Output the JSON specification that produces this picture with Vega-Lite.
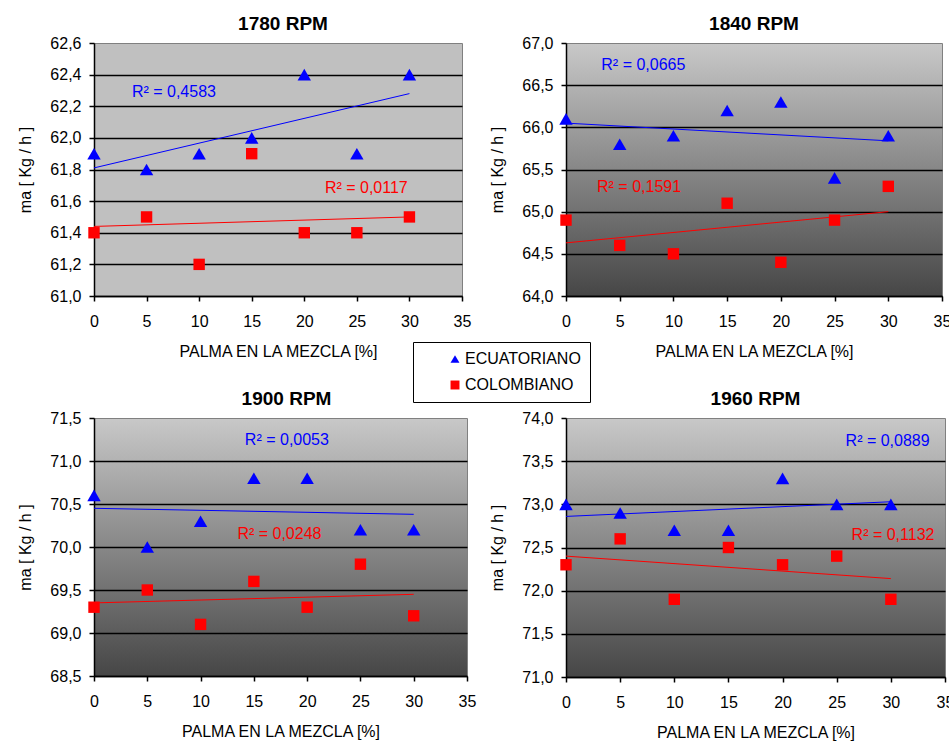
{
  "$schema": "https://vega.github.io/schema/vega-lite/v6.json",
  "padding": {"left": 17, "top": 14, "right": 0, "bottom": 0},
  "background": "#ffffff",
  "datasets": {
    "puntos": [
      {"rpm": 1780, "serie": "ECUATORIANO", "palma": 0, "ma": 61.9},
      {"rpm": 1780, "serie": "ECUATORIANO", "palma": 5, "ma": 61.8},
      {"rpm": 1780, "serie": "ECUATORIANO", "palma": 10, "ma": 61.9},
      {"rpm": 1780, "serie": "ECUATORIANO", "palma": 15, "ma": 62.0},
      {"rpm": 1780, "serie": "ECUATORIANO", "palma": 20, "ma": 62.4},
      {"rpm": 1780, "serie": "ECUATORIANO", "palma": 25, "ma": 61.9},
      {"rpm": 1780, "serie": "ECUATORIANO", "palma": 30, "ma": 62.4},
      {"rpm": 1780, "serie": "COLOMBIANO", "palma": 0, "ma": 61.4},
      {"rpm": 1780, "serie": "COLOMBIANO", "palma": 5, "ma": 61.5},
      {"rpm": 1780, "serie": "COLOMBIANO", "palma": 10, "ma": 61.2},
      {"rpm": 1780, "serie": "COLOMBIANO", "palma": 15, "ma": 61.9},
      {"rpm": 1780, "serie": "COLOMBIANO", "palma": 20, "ma": 61.4},
      {"rpm": 1780, "serie": "COLOMBIANO", "palma": 25, "ma": 61.4},
      {"rpm": 1780, "serie": "COLOMBIANO", "palma": 30, "ma": 61.5},
      {"rpm": 1840, "serie": "ECUATORIANO", "palma": 0, "ma": 66.1},
      {"rpm": 1840, "serie": "ECUATORIANO", "palma": 5, "ma": 65.8},
      {"rpm": 1840, "serie": "ECUATORIANO", "palma": 10, "ma": 65.9},
      {"rpm": 1840, "serie": "ECUATORIANO", "palma": 15, "ma": 66.2},
      {"rpm": 1840, "serie": "ECUATORIANO", "palma": 20, "ma": 66.3},
      {"rpm": 1840, "serie": "ECUATORIANO", "palma": 25, "ma": 65.4},
      {"rpm": 1840, "serie": "ECUATORIANO", "palma": 30, "ma": 65.9},
      {"rpm": 1840, "serie": "COLOMBIANO", "palma": 0, "ma": 64.9},
      {"rpm": 1840, "serie": "COLOMBIANO", "palma": 5, "ma": 64.6},
      {"rpm": 1840, "serie": "COLOMBIANO", "palma": 10, "ma": 64.5},
      {"rpm": 1840, "serie": "COLOMBIANO", "palma": 15, "ma": 65.1},
      {"rpm": 1840, "serie": "COLOMBIANO", "palma": 20, "ma": 64.4},
      {"rpm": 1840, "serie": "COLOMBIANO", "palma": 25, "ma": 64.9},
      {"rpm": 1840, "serie": "COLOMBIANO", "palma": 30, "ma": 65.3},
      {"rpm": 1900, "serie": "ECUATORIANO", "palma": 0, "ma": 70.6},
      {"rpm": 1900, "serie": "ECUATORIANO", "palma": 5, "ma": 70.0},
      {"rpm": 1900, "serie": "ECUATORIANO", "palma": 10, "ma": 70.3},
      {"rpm": 1900, "serie": "ECUATORIANO", "palma": 15, "ma": 70.8},
      {"rpm": 1900, "serie": "ECUATORIANO", "palma": 20, "ma": 70.8},
      {"rpm": 1900, "serie": "ECUATORIANO", "palma": 25, "ma": 70.2},
      {"rpm": 1900, "serie": "ECUATORIANO", "palma": 30, "ma": 70.2},
      {"rpm": 1900, "serie": "COLOMBIANO", "palma": 0, "ma": 69.3},
      {"rpm": 1900, "serie": "COLOMBIANO", "palma": 5, "ma": 69.5},
      {"rpm": 1900, "serie": "COLOMBIANO", "palma": 10, "ma": 69.1},
      {"rpm": 1900, "serie": "COLOMBIANO", "palma": 15, "ma": 69.6},
      {"rpm": 1900, "serie": "COLOMBIANO", "palma": 20, "ma": 69.3},
      {"rpm": 1900, "serie": "COLOMBIANO", "palma": 25, "ma": 69.8},
      {"rpm": 1900, "serie": "COLOMBIANO", "palma": 30, "ma": 69.2},
      {"rpm": 1960, "serie": "ECUATORIANO", "palma": 0, "ma": 73.0},
      {"rpm": 1960, "serie": "ECUATORIANO", "palma": 5, "ma": 72.9},
      {"rpm": 1960, "serie": "ECUATORIANO", "palma": 10, "ma": 72.7},
      {"rpm": 1960, "serie": "ECUATORIANO", "palma": 15, "ma": 72.7},
      {"rpm": 1960, "serie": "ECUATORIANO", "palma": 20, "ma": 73.3},
      {"rpm": 1960, "serie": "ECUATORIANO", "palma": 25, "ma": 73.0},
      {"rpm": 1960, "serie": "ECUATORIANO", "palma": 30, "ma": 73.0},
      {"rpm": 1960, "serie": "COLOMBIANO", "palma": 0, "ma": 72.3},
      {"rpm": 1960, "serie": "COLOMBIANO", "palma": 5, "ma": 72.6},
      {"rpm": 1960, "serie": "COLOMBIANO", "palma": 10, "ma": 71.9},
      {"rpm": 1960, "serie": "COLOMBIANO", "palma": 15, "ma": 72.5},
      {"rpm": 1960, "serie": "COLOMBIANO", "palma": 20, "ma": 72.3},
      {"rpm": 1960, "serie": "COLOMBIANO", "palma": 25, "ma": 72.4},
      {"rpm": 1960, "serie": "COLOMBIANO", "palma": 30, "ma": 71.9}
    ],
    "tendencias": [
      {"rpm": 1780, "serie": "ECUATORIANO", "palma": 0, "ma": 61.81},
      {"rpm": 1780, "serie": "ECUATORIANO", "palma": 30, "ma": 62.28},
      {"rpm": 1780, "serie": "COLOMBIANO", "palma": 0, "ma": 61.44},
      {"rpm": 1780, "serie": "COLOMBIANO", "palma": 30, "ma": 61.50},
      {"rpm": 1840, "serie": "ECUATORIANO", "palma": 0, "ma": 66.05},
      {"rpm": 1840, "serie": "ECUATORIANO", "palma": 30, "ma": 65.84},
      {"rpm": 1840, "serie": "COLOMBIANO", "palma": 0, "ma": 64.63},
      {"rpm": 1840, "serie": "COLOMBIANO", "palma": 30, "ma": 65.00},
      {"rpm": 1900, "serie": "ECUATORIANO", "palma": 0, "ma": 70.45},
      {"rpm": 1900, "serie": "ECUATORIANO", "palma": 30, "ma": 70.38},
      {"rpm": 1900, "serie": "COLOMBIANO", "palma": 0, "ma": 69.35},
      {"rpm": 1900, "serie": "COLOMBIANO", "palma": 30, "ma": 69.45},
      {"rpm": 1960, "serie": "ECUATORIANO", "palma": 0, "ma": 72.86},
      {"rpm": 1960, "serie": "ECUATORIANO", "palma": 30, "ma": 73.03},
      {"rpm": 1960, "serie": "COLOMBIANO", "palma": 0, "ma": 72.40},
      {"rpm": 1960, "serie": "COLOMBIANO", "palma": 30, "ma": 72.14}
    ],
    "r2": [
      {"rpm": 1780, "serie": "ECUATORIANO", "palma": 7.6, "ma": 62.29, "texto": "R² = 0,4583"},
      {"rpm": 1780, "serie": "COLOMBIANO", "palma": 25.9, "ma": 61.68, "texto": "R² = 0,0117"},
      {"rpm": 1840, "serie": "ECUATORIANO", "palma": 7.2, "ma": 66.74, "texto": "R² = 0,0665"},
      {"rpm": 1840, "serie": "COLOMBIANO", "palma": 6.8, "ma": 65.29, "texto": "R² = 0,1591"},
      {"rpm": 1900, "serie": "ECUATORIANO", "palma": 18.1, "ma": 71.24, "texto": "R² = 0,0053"},
      {"rpm": 1900, "serie": "COLOMBIANO", "palma": 17.4, "ma": 70.15, "texto": "R² = 0,0248"},
      {"rpm": 1960, "serie": "ECUATORIANO", "palma": 29.7, "ma": 73.73, "texto": "R² = 0,0889"},
      {"rpm": 1960, "serie": "COLOMBIANO", "palma": 30.2, "ma": 72.64, "texto": "R² = 0,1132"}
    ]
  },
  "columns": 2,
  "bounds": "flush",
  "spacing": {"row": 122, "column": 99},
  "resolve": {"scale": {"x": "independent", "y": "independent"}},
  "concat": [
    {
      "title": {"text": "1780 RPM", "dx": 5},
      "width": 368, "height": 253,
      "view": {"fill": "#c0c0c0", "stroke": "#808080"},
      "encoding": {
        "x": {"field": "palma", "type": "quantitative", "title": "PALMA EN LA MEZCLA [%]",
              "scale": {"domain": [0, 35], "nice": false, "zero": false},
              "axis": {"values": [0, 5, 10, 15, 20, 25, 30, 35]}},
        "y": {"field": "ma", "type": "quantitative", "title": "ma [ Kg / h ]",
              "scale": {"domain": [61, 62.6], "nice": false, "zero": false},
              "axis": {"values": [61, 61.2, 61.4, 61.6, 61.8, 62, 62.2, 62.4, 62.6],
                       "gridOpacity": {"condition": {"test": "datum.value > 62.55", "value": 0}, "value": 1}}}
      },
      "layer": [
        {"data": {"name": "tendencias"}, "transform": [{"filter": "datum.rpm == 1780"}],
         "mark": {"type": "line", "strokeWidth": 1},
         "encoding": {"stroke": {"condition": {"test": "datum.serie == 'ECUATORIANO'", "value": "#0000ff"}, "value": "#ff0000"}, "detail": {"field": "serie"}}},
        {"data": {"name": "puntos"}, "transform": [{"filter": "datum.rpm == 1780"}],
         "mark": {"type": "point", "filled": true, "opacity": 1, "strokeWidth": 0},
         "encoding": {
           "color": {"field": "serie", "type": "nominal", "scale": {"domain": ["ECUATORIANO", "COLOMBIANO"], "range": ["#0000ff", "#ff0000"]},
                     "legend": {"title": null, "orient": "none", "legendX": 319, "legendY": 299, "strokeColor": "#000000", "fillColor": "#ffffff", "padding": 9, "symbolOffset": 25, "labelOffset": 2, "rowPadding": 10, "symbolSize": 80, "labelFontSize": 16, "labelColor": "#000000", "labelExpr": "datum.label + '\u2003\u2003\u2003\u2003\u2003'"}},
           "shape": {"field": "serie", "type": "nominal", "scale": {"domain": ["ECUATORIANO", "COLOMBIANO"], "range": ["triangle-up", "square"]},
                     "legend": {"title": null, "orient": "none", "legendX": 319, "legendY": 299, "strokeColor": "#000000", "fillColor": "#ffffff", "padding": 9, "symbolOffset": 25, "labelOffset": 2, "rowPadding": 10, "symbolSize": 80, "labelFontSize": 16, "labelColor": "#000000", "labelExpr": "datum.label + '\u2003\u2003\u2003\u2003\u2003'"}},
           "size": {"condition": {"test": "datum.serie == 'ECUATORIANO'", "value": 180}, "value": 130}}},
        {"data": {"name": "r2"}, "transform": [{"filter": "datum.rpm == 1780"}],
         "mark": {"type": "text", "fontSize": 16, "baseline": "middle", "align": "center"},
         "encoding": {"text": {"field": "texto"}, "fill": {"condition": {"test": "datum.serie == 'ECUATORIANO'", "value": "#0000ff"}, "value": "#ff0000"}}}
      ]
    },
    {
      "title": "1840 RPM",
      "width": 376, "height": 253,
      "encoding": {
        "x": {"field": "palma", "type": "quantitative", "title": "PALMA EN LA MEZCLA [%]",
              "scale": {"domain": [0, 35], "nice": false, "zero": false},
              "axis": {"values": [0, 5, 10, 15, 20, 25, 30, 35]}},
        "y": {"field": "ma", "type": "quantitative", "title": "ma [ Kg / h ]",
              "scale": {"domain": [64, 67], "nice": false, "zero": false},
              "axis": {"values": [64, 64.5, 65, 65.5, 66, 66.5, 67],
                       "gridOpacity": {"condition": {"test": "datum.value > 66.9", "value": 0}, "value": 1}}}
      },
      "layer": [
        {"data": {"name": "tendencias"}, "transform": [{"filter": "datum.rpm == 1840"}],
         "mark": {"type": "line", "strokeWidth": 1},
         "encoding": {"stroke": {"condition": {"test": "datum.serie == 'ECUATORIANO'", "value": "#0000ff"}, "value": "#ff0000"}, "detail": {"field": "serie"}}},
        {"data": {"name": "puntos"}, "transform": [{"filter": "datum.rpm == 1840"}],
         "mark": {"type": "point", "filled": true, "opacity": 1, "strokeWidth": 0},
         "encoding": {
           "color": {"field": "serie", "type": "nominal", "scale": {"domain": ["ECUATORIANO", "COLOMBIANO"], "range": ["#0000ff", "#ff0000"]}},
           "shape": {"field": "serie", "type": "nominal", "scale": {"domain": ["ECUATORIANO", "COLOMBIANO"], "range": ["triangle-up", "square"]}},
           "size": {"condition": {"test": "datum.serie == 'ECUATORIANO'", "value": 180}, "value": 130}}},
        {"data": {"name": "r2"}, "transform": [{"filter": "datum.rpm == 1840"}],
         "mark": {"type": "text", "fontSize": 16, "baseline": "middle", "align": "center"},
         "encoding": {"text": {"field": "texto"}, "fill": {"condition": {"test": "datum.serie == 'ECUATORIANO'", "value": "#0000ff"}, "value": "#ff0000"}}}
      ]
    },
    {
      "title": {"text": "1900 RPM", "dx": 6},
      "width": 373, "height": 258,
      "encoding": {
        "x": {"field": "palma", "type": "quantitative", "title": "PALMA EN LA MEZCLA [%]",
              "scale": {"domain": [0, 35], "nice": false, "zero": false},
              "axis": {"values": [0, 5, 10, 15, 20, 25, 30, 35]}},
        "y": {"field": "ma", "type": "quantitative", "title": "ma [ Kg / h ]",
              "scale": {"domain": [68.5, 71.5], "nice": false, "zero": false},
              "axis": {"values": [68.5, 69, 69.5, 70, 70.5, 71, 71.5],
                       "gridOpacity": {"condition": {"test": "datum.value > 71.4", "value": 0}, "value": 1}}}
      },
      "layer": [
        {"data": {"name": "tendencias"}, "transform": [{"filter": "datum.rpm == 1900"}],
         "mark": {"type": "line", "strokeWidth": 1},
         "encoding": {"stroke": {"condition": {"test": "datum.serie == 'ECUATORIANO'", "value": "#0000ff"}, "value": "#ff0000"}, "detail": {"field": "serie"}}},
        {"data": {"name": "puntos"}, "transform": [{"filter": "datum.rpm == 1900"}],
         "mark": {"type": "point", "filled": true, "opacity": 1, "strokeWidth": 0},
         "encoding": {
           "color": {"field": "serie", "type": "nominal", "scale": {"domain": ["ECUATORIANO", "COLOMBIANO"], "range": ["#0000ff", "#ff0000"]}},
           "shape": {"field": "serie", "type": "nominal", "scale": {"domain": ["ECUATORIANO", "COLOMBIANO"], "range": ["triangle-up", "square"]}},
           "size": {"condition": {"test": "datum.serie == 'ECUATORIANO'", "value": 180}, "value": 130}}},
        {"data": {"name": "r2"}, "transform": [{"filter": "datum.rpm == 1900"}],
         "mark": {"type": "text", "fontSize": 16, "baseline": "middle", "align": "center"},
         "encoding": {"text": {"field": "texto"}, "fill": {"condition": {"test": "datum.serie == 'ECUATORIANO'", "value": "#0000ff"}, "value": "#ff0000"}}}
      ]
    },
    {
      "title": "1960 RPM",
      "width": 379, "height": 259,
      "encoding": {
        "x": {"field": "palma", "type": "quantitative", "title": "PALMA EN LA MEZCLA [%]",
              "scale": {"domain": [0, 35], "nice": false, "zero": false},
              "axis": {"values": [0, 5, 10, 15, 20, 25, 30, 35]}},
        "y": {"field": "ma", "type": "quantitative", "title": "ma [ Kg / h ]",
              "scale": {"domain": [71, 74], "nice": false, "zero": false},
              "axis": {"values": [71, 71.5, 72, 72.5, 73, 73.5, 74],
                       "gridOpacity": {"condition": {"test": "datum.value > 73.9", "value": 0}, "value": 1}}}
      },
      "layer": [
        {"data": {"name": "tendencias"}, "transform": [{"filter": "datum.rpm == 1960"}],
         "mark": {"type": "line", "strokeWidth": 1},
         "encoding": {"stroke": {"condition": {"test": "datum.serie == 'ECUATORIANO'", "value": "#0000ff"}, "value": "#ff0000"}, "detail": {"field": "serie"}}},
        {"data": {"name": "puntos"}, "transform": [{"filter": "datum.rpm == 1960"}],
         "mark": {"type": "point", "filled": true, "opacity": 1, "strokeWidth": 0},
         "encoding": {
           "color": {"field": "serie", "type": "nominal", "scale": {"domain": ["ECUATORIANO", "COLOMBIANO"], "range": ["#0000ff", "#ff0000"]}},
           "shape": {"field": "serie", "type": "nominal", "scale": {"domain": ["ECUATORIANO", "COLOMBIANO"], "range": ["triangle-up", "square"]}},
           "size": {"condition": {"test": "datum.serie == 'ECUATORIANO'", "value": 180}, "value": 130}}},
        {"data": {"name": "r2"}, "transform": [{"filter": "datum.rpm == 1960"}],
         "mark": {"type": "text", "fontSize": 16, "baseline": "middle", "align": "center"},
         "encoding": {"text": {"field": "texto"}, "fill": {"condition": {"test": "datum.serie == 'ECUATORIANO'", "value": "#0000ff"}, "value": "#ff0000"}}}
      ]
    }
  ],
  "config": {
    "locale": {"number": {"decimal": ",", "thousands": ".", "grouping": [3], "currency": ["", ""]}},
    "font": "Liberation Sans",
    "view": {
      "stroke": "#808080",
      "strokeWidth": 1,
      "fill": {"gradient": "linear", "x1": 0, "y1": 0, "x2": 0, "y2": 1,
               "stops": [{"offset": 0, "color": "#c8c8c8"}, {"offset": 1, "color": "#464646"}]}
    },
    "axis": {
      "domainColor": "#000000", "domainWidth": 1.5,
      "tickColor": "#000000", "tickWidth": 1.5, "tickSize": 5,
      "gridColor": "#000000", "gridWidth": 1.5,
      "labelFont": "Liberation Sans", "labelFontSize": 16, "labelColor": "#000000",
      "titleFont": "Liberation Sans", "titleFontSize": 16, "titleFontWeight": "normal", "titleColor": "#000000",
      "labelFlush": false, "labelOverlap": false
    },
    "axisX": {"grid": false, "labelPadding": 12, "titlePadding": 14},
    "axisY": {"grid": true, "labelPadding": 8, "titlePadding": 16, "format": ".1f"},
    "title": {"fontSize": 19, "fontWeight": "bold", "font": "Liberation Sans", "color": "#000000", "offset": 1, "anchor": "middle"}
  }
}
